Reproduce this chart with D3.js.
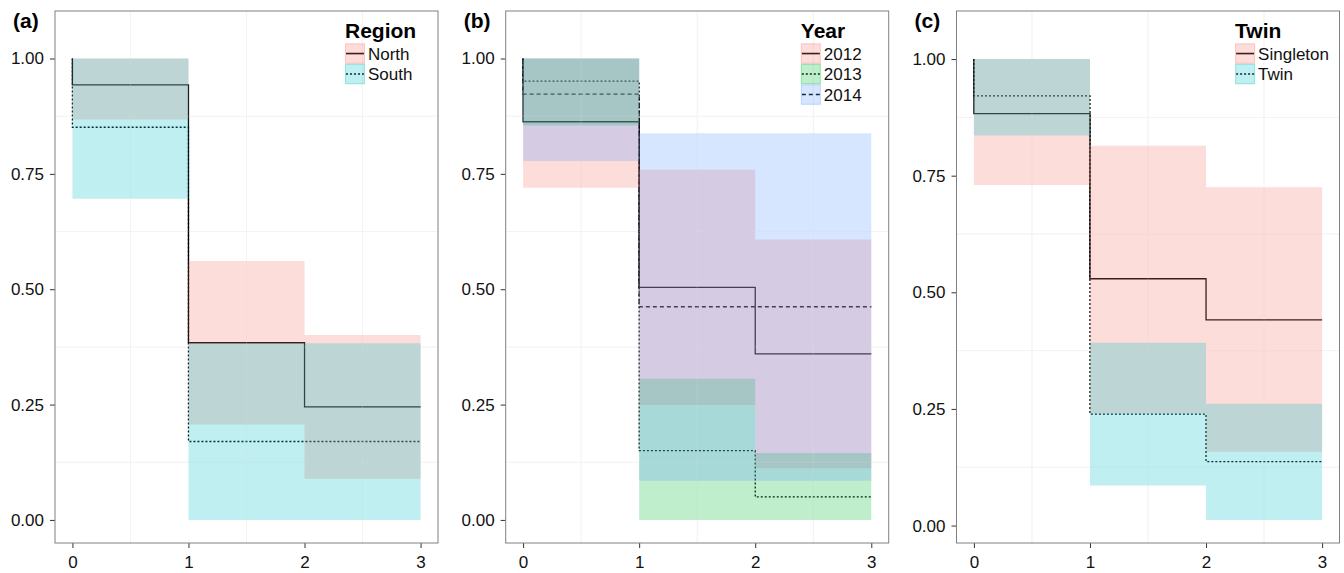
<!DOCTYPE html>
<html>
<head>
<meta charset="utf-8">
<script src="https://cdn.jsdelivr.net/npm/d3@7"></script>
<style>
  body { margin: 0; background: #fff; }
  svg { display: block; font-family: "Liberation Sans", Arial, Helvetica, sans-serif; }
</style>
</head>
<body>
<div id="chart"></div>
<script>
// time steps (estimates hold from each step to the next) and axis ticks
const stepTimes = [0, 1, 2];
const endTime = 3;
const xTicks = [0, 1, 2, 3];
const yTicks = [0, 0.25, 0.5, 0.75, 1];
const xMinor = [0.5, 1.5, 2.5];
const yMinor = [0.125, 0.375, 0.625, 0.875];

// (a) Region
const regionNames = ["North", "South"];
const northSurv  = [0.943, 0.384, 0.245];
const northLower = [0.868, 0.207, 0.089];
const northUpper = [1.000, 0.561, 0.401];
const southSurv  = [0.851, 0.170, 0.170];
const southLower = [0.696, 0.000, 0.000];
const southUpper = [1.000, 0.383, 0.383];

// (b) Year
const yearNames = ["2012", "2013", "2014"];
const y2012Surv  = [0.863, 0.504, 0.360];
const y2012Lower = [0.720, 0.249, 0.112];
const y2012Upper = [1.000, 0.759, 0.608];
const y2013Surv  = [0.951, 0.150, 0.050];
const y2013Lower = [0.855, 0.000, 0.000];
const y2013Upper = [1.000, 0.306, 0.145];
const y2014Surv  = [0.923, 0.462, 0.462];
const y2014Lower = [0.778, 0.085, 0.085];
const y2014Upper = [1.000, 0.838, 0.838];

// (c) Twin
const twinNames = ["Singleton", "Twin"];
const singletonSurv  = [0.883, 0.529, 0.441];
const singletonLower = [0.730, 0.241, 0.158];
const singletonUpper = [1.000, 0.814, 0.725];
const twinSurv  = [0.921, 0.239, 0.137];
const twinLower = [0.836, 0.086, 0.012];
const twinUpper = [1.000, 0.392, 0.261];

const pal2 = ["#F8766D", "#00BFC4"];
const pal3 = ["#F8766D", "#00BA38", "#619CFF"];
const dashes = [null, "2,2", "4,3"];

const panels = [
  { label: "(a)", title: "Region", names: regionNames, colors: pal2,
    surv: [northSurv, southSurv], lower: [northLower, southLower], upper: [northUpper, southUpper] },
  { label: "(b)", title: "Year", names: yearNames, colors: pal3,
    surv: [y2012Surv, y2013Surv, y2014Surv], lower: [y2012Lower, y2013Lower, y2014Lower],
    upper: [y2012Upper, y2013Upper, y2014Upper] },
  { label: "(c)", title: "Twin", names: twinNames, colors: pal2,
    surv: [singletonSurv, twinSurv], lower: [singletonLower, twinLower], upper: [singletonUpper, twinUpper] }
];

const width = 1344, height = 573;
const panelLefts = [55, 505.7, 956.5];
const panelW = 383;
const panelTop = 11, panelBottom = 543;

const svg = d3.select("#chart").append("svg")
  .attr("width", width)
  .attr("height", height);

panels.forEach((p, pi) => {
  const left = panelLefts[pi];
  const right = left + panelW;

  // ggplot-style expansion of the lower limit
  const lo = d3.min(p.lower.flat());
  const yMin = lo - 0.05 * (1 - lo);

  const x = d3.scaleLinear().domain([-0.15, 3.15]).range([left, right]);
  const y = d3.scaleLinear().domain([yMin, 1.103]).range([panelBottom, panelTop]);

  const g = svg.append("g");

  // faint grid (minor positions only)
  g.selectAll("line.gx").data(xMinor).join("line")
    .attr("x1", d => x(d)).attr("x2", d => x(d))
    .attr("y1", panelTop).attr("y2", panelBottom)
    .attr("stroke", "#f0f0f0").attr("stroke-width", 1);
  g.selectAll("line.gy").data(yMinor).join("line")
    .attr("y1", d => y(d)).attr("y2", d => y(d))
    .attr("x1", left).attr("x2", right)
    .attr("stroke", "#f0f0f0").attr("stroke-width", 1);

  // step lines
  const line = d3.line()
    .x(d => x(d[0])).y(d => y(d[1]))
    .curve(d3.curveStepAfter);

  p.surv.forEach((s, i) => {
    const pts = [[0, 1]].concat(stepTimes.map((t, j) => [t, s[j]]));
    pts.push([endTime, s[s.length - 1]]);
    g.append("path")
      .attr("d", line(pts))
      .attr("fill", "none")
      .attr("stroke", "#000")
      .attr("stroke-width", 1.3)
      .attr("stroke-dasharray", dashes[i]);
  });

  // confidence ribbons drawn over the lines
  const area = d3.area()
    .x(d => x(d.t)).y0(d => y(d.lo)).y1(d => y(d.hi))
    .curve(d3.curveStepAfter);

  p.lower.forEach((lw, i) => {
    const up = p.upper[i];
    const pts = stepTimes.map((t, j) => ({ t, lo: lw[j], hi: up[j] }));
    pts.push({ t: endTime, lo: lw[lw.length - 1], hi: up[up.length - 1] });
    g.append("path")
      .attr("d", area(pts))
      .attr("fill", p.colors[i])
      .attr("fill-opacity", 0.25);
  });

  // light seams of the grid showing through
  g.selectAll("line.sx").data(xMinor).join("line")
    .attr("x1", d => x(d)).attr("x2", d => x(d))
    .attr("y1", panelTop).attr("y2", panelBottom)
    .attr("stroke", "#fff").attr("stroke-opacity", 0.2);
  g.selectAll("line.sy").data(yMinor).join("line")
    .attr("y1", d => y(d)).attr("y2", d => y(d))
    .attr("x1", left).attr("x2", right)
    .attr("stroke", "#fff").attr("stroke-opacity", 0.2);

  // axes
  const ax = g.append("g")
    .attr("transform", `translate(0,${panelBottom})`)
    .call(d3.axisBottom(x).tickValues(xTicks).tickSize(5).tickPadding(8).tickFormat(d3.format("d")));
  const ay = g.append("g")
    .attr("transform", `translate(${left},0)`)
    .call(d3.axisLeft(y).tickValues(yTicks).tickSize(5).tickPadding(6).tickFormat(d3.format(".2f")));
  [ax, ay].forEach(a => {
    a.select(".domain").remove();
    a.selectAll(".tick line").attr("stroke", "#333");
    a.selectAll(".tick text")
      .attr("fill", "#111")
      .style("font-size", "17px")
      .style("font-family", "'Liberation Sans', Arial, sans-serif");
  });

  // panel border
  g.append("rect")
    .attr("x", left).attr("y", panelTop)
    .attr("width", panelW).attr("height", panelBottom - panelTop)
    .attr("fill", "none")
    .attr("stroke", "#808080")
    .attr("stroke-width", 1);

  // panel label
  g.append("text")
    .attr("x", left - 42).attr("y", 28)
    .text(p.label)
    .style("font-size", "21px").style("font-weight", "bold").attr("fill", "#000");

  // legend
  const legend = g.append("g");
  const title = legend.append("text")
    .attr("y", 38.3)
    .text(p.title)
    .style("font-size", "21px").style("font-weight", "bold").attr("fill", "#000");
  const keyW = 20, keyH = 20.5, keyTop = 43.3;
  let maxW = title.node().getComputedTextLength();
  p.names.forEach((n, i) => {
    const ky = keyTop + i * keyH;
    const kg = legend.append("g");
    kg.append("line")
      .attr("x1", 1).attr("x2", keyW - 1)
      .attr("y1", ky + keyH / 2).attr("y2", ky + keyH / 2)
      .attr("stroke", "#000").attr("stroke-width", 1.6)
      .attr("stroke-dasharray", dashes[i]);
    kg.append("rect")
      .attr("x", 0.5).attr("y", ky + 0.5)
      .attr("width", keyW - 1).attr("height", keyH - 1)
      .attr("fill", p.colors[i]).attr("fill-opacity", 0.25)
      .attr("stroke", p.colors[i]).attr("stroke-opacity", 0.35);
    const t = kg.append("text")
      .attr("x", keyW + 3).attr("y", ky + keyH / 2 + 6)
      .text(n)
      .style("font-size", "17px").attr("fill", "#111");
    maxW = Math.max(maxW, keyW + 3 + t.node().getComputedTextLength());
  });
  const cx = left + 0.85 * panelW;
  legend.attr("transform", `translate(${cx - maxW / 2},0)`);
});
</script>
</body>
</html>
